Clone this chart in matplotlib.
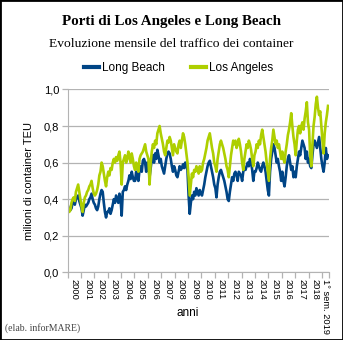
import numpy as np
import matplotlib
matplotlib.use('Agg')
import matplotlib.pyplot as plt
from matplotlib.patches import Rectangle

# valori mensili (milioni di TEU)
long_beach = {
    2000: [0.36, 0.34, 0.34, 0.35, 0.38, 0.39, 0.37, 0.40, 0.41, 0.42, 0.39, 0.37],
    2001: [0.35, 0.31, 0.34, 0.37, 0.36, 0.37, 0.38, 0.40, 0.41, 0.43, 0.40, 0.38],
    2002: [0.37, 0.35, 0.34, 0.36, 0.40, 0.43, 0.45, 0.44, 0.38, 0.33, 0.30, 0.33],
    2003: [0.33, 0.35, 0.32, 0.34, 0.37, 0.40, 0.38, 0.42, 0.40, 0.38, 0.43, 0.40],
    2004: [0.31, 0.44, 0.45, 0.47, 0.45, 0.48, 0.50, 0.53, 0.51, 0.55, 0.52, 0.50],
    2005: [0.50, 0.55, 0.52, 0.50, 0.56, 0.58, 0.55, 0.61, 0.62, 0.60, 0.55, 0.60],
    2006: [0.58, 0.52, 0.57, 0.62, 0.64, 0.60, 0.65, 0.62, 0.67, 0.64, 0.60, 0.62],
    2007: [0.58, 0.56, 0.54, 0.58, 0.62, 0.65, 0.66, 0.65, 0.62, 0.58, 0.55, 0.58],
    2008: [0.56, 0.53, 0.52, 0.55, 0.58, 0.56, 0.57, 0.59, 0.57, 0.60, 0.58, 0.56],
    2009: [0.42, 0.32, 0.38, 0.42, 0.40, 0.44, 0.42, 0.46, 0.44, 0.42, 0.45, 0.43],
    2010: [0.42, 0.45, 0.48, 0.52, 0.55, 0.58, 0.60, 0.61, 0.58, 0.55, 0.52, 0.48],
    2011: [0.46, 0.41, 0.48, 0.52, 0.55, 0.56, 0.54, 0.52, 0.50, 0.47, 0.44, 0.40],
    2012: [0.39, 0.44, 0.48, 0.52, 0.50, 0.54, 0.55, 0.53, 0.50, 0.55, 0.54, 0.53],
    2013: [0.50, 0.55, 0.57, 0.56, 0.58, 0.60, 0.58, 0.62, 0.60, 0.56, 0.50, 0.55],
    2014: [0.55, 0.57, 0.60, 0.58, 0.56, 0.55, 0.58, 0.60, 0.58, 0.55, 0.50, 0.45],
    2015: [0.42, 0.55, 0.62, 0.66, 0.70, 0.68, 0.64, 0.60, 0.62, 0.58, 0.55, 0.50],
    2016: [0.55, 0.50, 0.47, 0.52, 0.58, 0.62, 0.64, 0.60, 0.56, 0.58, 0.52, 0.55],
    2017: [0.52, 0.58, 0.62, 0.66, 0.64, 0.68, 0.72, 0.70, 0.68, 0.62, 0.66, 0.60],
    2018: [0.62, 0.58, 0.57, 0.64, 0.70, 0.72, 0.70, 0.68, 0.71, 0.74, 0.68, 0.62],
    2019: [0.58, 0.55, 0.60, 0.68, 0.62, 0.64],
}
los_angeles = {
    2000: [0.35, 0.33, 0.34, 0.38, 0.40, 0.41, 0.39, 0.44, 0.46, 0.48, 0.44, 0.40],
    2001: [0.36, 0.33, 0.38, 0.41, 0.42, 0.44, 0.45, 0.47, 0.48, 0.50, 0.46, 0.43],
    2002: [0.42, 0.43, 0.45, 0.48, 0.53, 0.55, 0.60, 0.58, 0.54, 0.50, 0.47, 0.52],
    2003: [0.55, 0.53, 0.57, 0.56, 0.60, 0.62, 0.60, 0.63, 0.61, 0.64, 0.66, 0.60],
    2004: [0.48, 0.60, 0.62, 0.64, 0.60, 0.62, 0.66, 0.63, 0.60, 0.65, 0.62, 0.58],
    2005: [0.56, 0.60, 0.58, 0.55, 0.62, 0.64, 0.65, 0.66, 0.68, 0.70, 0.66, 0.64],
    2006: [0.62, 0.48, 0.60, 0.66, 0.70, 0.68, 0.72, 0.70, 0.76, 0.78, 0.80, 0.76],
    2007: [0.73, 0.70, 0.66, 0.64, 0.68, 0.72, 0.71, 0.74, 0.72, 0.68, 0.64, 0.70],
    2008: [0.68, 0.66, 0.65, 0.70, 0.72, 0.68, 0.72, 0.76, 0.74, 0.70, 0.65, 0.60],
    2009: [0.52, 0.42, 0.48, 0.54, 0.52, 0.56, 0.55, 0.58, 0.56, 0.54, 0.58, 0.55],
    2010: [0.56, 0.60, 0.62, 0.65, 0.68, 0.72, 0.74, 0.76, 0.72, 0.68, 0.65, 0.60],
    2011: [0.58, 0.55, 0.62, 0.66, 0.70, 0.72, 0.70, 0.68, 0.65, 0.62, 0.58, 0.56],
    2012: [0.52, 0.58, 0.64, 0.68, 0.72, 0.70, 0.72, 0.68, 0.70, 0.73, 0.70, 0.66],
    2013: [0.60, 0.56, 0.62, 0.66, 0.70, 0.68, 0.72, 0.70, 0.67, 0.62, 0.58, 0.64],
    2014: [0.66, 0.70, 0.68, 0.72, 0.70, 0.75, 0.78, 0.74, 0.70, 0.66, 0.60, 0.55],
    2015: [0.50, 0.62, 0.68, 0.72, 0.78, 0.74, 0.70, 0.72, 0.68, 0.70, 0.66, 0.62],
    2016: [0.66, 0.62, 0.60, 0.66, 0.70, 0.75, 0.78, 0.82, 0.87, 0.80, 0.74, 0.70],
    2017: [0.64, 0.72, 0.78, 0.80, 0.76, 0.80, 0.82, 0.78, 0.84, 0.88, 0.93, 0.82],
    2018: [0.78, 0.64, 0.58, 0.70, 0.80, 0.85, 0.92, 0.96, 0.90, 0.86, 0.88, 0.80],
    2019: [0.72, 0.65, 0.76, 0.82, 0.86, 0.91],
}
year_labels = [str(y) for y in range(2000, 2019)] + ['1° sem. 2019']

lb = np.concatenate([long_beach[y] for y in sorted(long_beach)])
la = np.concatenate([los_angeles[y] for y in sorted(los_angeles)])
months = np.arange(len(lb)) + 0.5

blue = '#004586'
green = '#aecf00'
grey = '#b3b3b3'

fig = plt.figure(figsize=(3.43, 3.40), dpi=100)
ax = fig.add_axes([0.197, 0.199, 0.761, 0.538])

ax.plot(months, lb, color=blue, lw=1.9, label='Long Beach')
ax.plot(months, la, color=green, lw=1.9, label='Los Angeles')

ax.set_xlim(0, len(lb))
ax.set_ylim(0, 1.0)
yt = np.arange(0, 1.01, 0.2)
ax.set_yticks(yt)
ax.set_yticklabels([('%.1f' % v).replace('.', ',') for v in yt])
ax.grid(axis='y', color=grey, lw=0.9)
ax.set_axisbelow(True)

# tick tra le categorie, etichette al centro di ogni anno
bounds = list(range(0, 12 * 19 + 1, 12)) + [len(lb)]
ax.set_xticks(bounds)
ax.set_xticklabels([])
centers = [(bounds[i] + bounds[i + 1]) / 2 for i in range(len(bounds) - 1)]
ax.set_xticks(centers, minor=True)
ax.set_xticklabels(year_labels, minor=True, rotation=270, fontsize=6.7,
                   family='Liberation Sans', va='top', ha='center')
ax.tick_params(axis='x', which='major', length=4, color=grey, width=0.9)
ax.tick_params(axis='x', which='minor', length=0, pad=4.5)
ax.tick_params(axis='y', length=4, color=grey, width=0.9, labelsize=8, pad=2)
for t in ax.get_yticklabels():
    t.set_family('Liberation Sans')

for s in ['top', 'right']:
    ax.spines[s].set_visible(False)
ax.spines['left'].set_color(grey)
ax.spines['bottom'].set_color(grey)

ax.set_ylabel('milioni di container TEU', fontsize=8, family='Liberation Sans', labelpad=7)

fig.text(0.548, 1 - 313 / 340, 'anni', fontsize=8.5, family='Liberation Sans',
         ha='center', va='center')
fig.text(0.5, 1 - 21 / 340, 'Porti di Los Angeles e Long Beach', fontsize=10.8,
         fontweight='bold', family='Liberation Serif', ha='center', va='center')
fig.text(0.5, 1 - 44 / 340, 'Evoluzione mensile del traffico dei container', fontsize=9.7,
         family='Liberation Serif', ha='center', va='center')
fig.text(0.015, 1 - 328 / 340, '(elab. inforMARE)', fontsize=7, color='#444444',
         family='Liberation Serif', ha='left', va='center')

leg = fig.legend(loc='center', bbox_to_anchor=(0.52, 1 - 68 / 340), ncol=2, frameon=False,
                 prop={'family': 'Liberation Sans', 'size': 8.5}, handlelength=1.3,
                 handletextpad=0.25, columnspacing=2.2)
for h in leg.get_lines():
    h.set_linewidth(3)

fig.add_artist(Rectangle((0, 0), 1, 1, transform=fig.transFigure, fill=False,
                         edgecolor='black', lw=2))

fig.savefig('out.png', dpi=100)
